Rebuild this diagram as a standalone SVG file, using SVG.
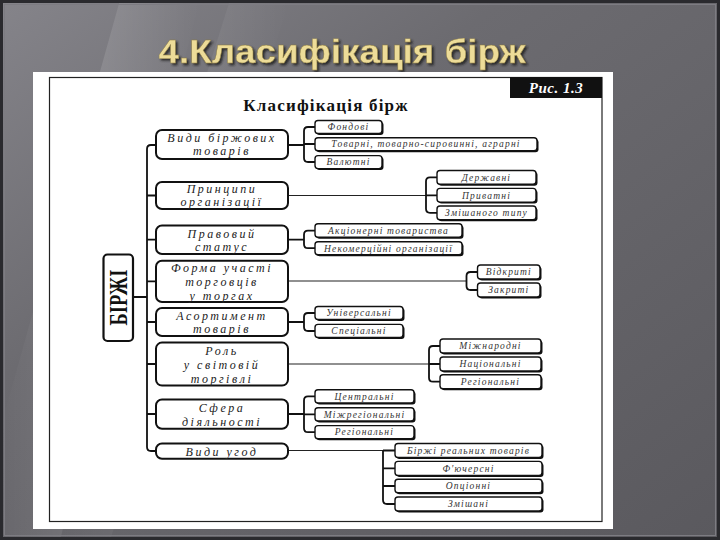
<svg xmlns="http://www.w3.org/2000/svg" width="720" height="540" viewBox="0 0 720 540">
<defs>
<linearGradient id="bg" x1="0" y1="0" x2="1" y2="1">
<stop offset="0" stop-color="#85848a"/>
<stop offset="0.35" stop-color="#6c6b70"/>
<stop offset="1" stop-color="#5a595e"/>
</linearGradient>
<linearGradient id="streak" x1="0" y1="0" x2="1" y2="0">
<stop offset="0" stop-color="#ffffff" stop-opacity="0"/>
<stop offset="0.5" stop-color="#ffffff" stop-opacity="0.12"/>
<stop offset="1" stop-color="#ffffff" stop-opacity="0"/>
</linearGradient>
<filter id="tshadow" x="-5%" y="-20%" width="110%" height="150%">
<feDropShadow dx="2" dy="2" stdDeviation="0.8" flood-color="#1e1e1e" flood-opacity="0.85"/>
</filter>
<style>
.cat{fill:#fff;stroke:#111;stroke-width:2}
.catt{font-family:"Liberation Serif",serif;font-style:italic;font-size:12px;letter-spacing:2.5px;fill:#222;text-anchor:middle}
.ch{fill:#fff;stroke:#111;stroke-width:1.4}
.chs{fill:#111}
.cht{font-family:"Liberation Serif",serif;font-style:italic;font-size:9.5px;letter-spacing:1.2px;fill:#333;text-anchor:middle}
.ln{fill:none;stroke:#111;stroke-width:1.8}
.lt{fill:none;stroke:#222;stroke-width:1.1}
</style>
</defs>
<rect x="0" y="0" width="720" height="540" fill="url(#bg)"/>
<polygon points="120,0 200,0 60,540 0,540 0,430" fill="url(#streak)"/>
<polygon points="230,0 290,0 110,540 60,540" fill="url(#streak)" opacity="0.7"/>
<rect x="1.5" y="1.5" width="717" height="537" fill="none" stroke="#2a2a2e" stroke-width="3"/>
<rect x="4.5" y="4.5" width="711" height="531" fill="none" stroke="#7d7c82" stroke-width="1"/>
<text x="342" y="63" filter="url(#tshadow)" font-family="'Liberation Sans',Arial,sans-serif" font-weight="bold" font-size="34" textLength="367" lengthAdjust="spacingAndGlyphs" text-anchor="middle" fill="#eddc98" stroke="#8a7a40" stroke-width="0.4">4.Класифікація бірж</text>
<rect x="33" y="72" width="580" height="457" fill="#ffffff"/>
<rect x="49.5" y="77.5" width="552.5" height="444" fill="none" stroke="#222" stroke-width="1.2"/>
<g id="fig-label">
<rect x="510" y="77" width="92" height="21" fill="#111"/>
<text x="556" y="93" font-family="'Liberation Serif',serif" font-style="italic" font-weight="bold" font-size="15" letter-spacing="0.5" fill="#fff" text-anchor="middle">Рис. 1.3</text>
</g>
<text x="326" y="111" font-family="'Liberation Serif',serif" font-weight="bold" font-size="17" letter-spacing="1.2" text-anchor="middle" fill="#111">Класифікація бірж</text>
<g id="connectors">
<path class="ln" d="M156,145 H151 Q147,145 147,149 V447 Q147,451 151,451 H156"/>
<path class="ln" d="M133,297 H147 M147,195.5 H156 M147,239.7 H156 M147,281.3 H156 M147,322 H156 M147,364 H156 M147,414 H156"/>
<path class="ln" d="M288,145 H304 M315,127 H308 Q304,127 304,131 V158 Q304,162 308,162 H315 M304,144 H315"/>
<path class="lt" d="M288,195.5 H426"/>
<path class="ln" d="M437,177.3 H430 Q426,177.3 426,181.3 V208.8 Q426,212.8 430,212.8 H437 M426,195.3 H437"/>
<path class="ln" d="M288,239.7 H304 M315,230.7 H308 Q304,230.7 304,234.7 V244.2 Q304,248.2 308,248.2 H315"/>
<path class="lt" d="M288,281 H466.5"/>
<path class="ln" d="M477.5,272 H470.5 Q466.5,272 466.5,276 V286 Q466.5,290 470.5,290 H477.5"/>
<path class="ln" d="M288,322 H304 M315,313 H308 Q304,313 304,317 V327 Q304,331 308,331 H315"/>
<path class="lt" d="M288,364 H429"/>
<path class="ln" d="M440,346 H433 Q429,346 429,350 V377.7 Q429,381.7 433,381.7 H440 M429,364 H440"/>
<path class="ln" d="M288,414 H304 M315,396.4 H308 Q304,396.4 304,400.4 V428.2 Q304,432.2 308,432.2 H315 M304,414.3 H315"/>
<path class="lt" d="M288,450.5 H383"/>
<path class="ln" d="M383,450.5 H395 M383,450.5 V500 Q383,504 387,504 H395 M383,468.3 H395 M383,486 H395"/>
</g>
<g id="birzhi">
<rect x="103.5" y="254.5" width="29.5" height="86.5" rx="4" fill="#fff" stroke="#111" stroke-width="2.2"/>
<text x="118.5" y="306" transform="rotate(-90 118.5 297.5)" font-family="'Liberation Serif',serif" font-weight="bold" font-size="25" textLength="56" lengthAdjust="spacingAndGlyphs" text-anchor="middle" fill="#111">БІРЖІ</text>
</g>
<g id="cat1"><rect class="cat" x="156" y="130" width="132" height="29" rx="6"/><text class="catt" x="222" y="142">Види біржових</text><text class="catt" x="222" y="155">товарів</text></g>
<g id="cat2"><rect class="cat" x="156" y="182" width="132" height="27" rx="6"/><text class="catt" x="222" y="193">Принципи</text><text class="catt" x="222" y="206">організації</text></g>
<g id="cat3"><rect class="cat" x="156" y="225.5" width="132" height="28.5" rx="6"/><text class="catt" x="222" y="237.5">Правовий</text><text class="catt" x="222" y="251">статус</text></g>
<g id="cat4"><rect class="cat" x="156" y="260.7" width="132" height="41.3" rx="6"/><text class="catt" x="222" y="272">Форма участі</text><text class="catt" x="222" y="286">торговців</text><text class="catt" x="222" y="299.5">у торгах</text></g>
<g id="cat5"><rect class="cat" x="156" y="308" width="132" height="28" rx="6"/><text class="catt" x="222" y="320">Асортимент</text><text class="catt" x="222" y="333">товарів</text></g>
<g id="cat6"><rect class="cat" x="156" y="342.6" width="132" height="43" rx="6"/><text class="catt" x="222" y="355">Роль</text><text class="catt" x="222" y="369">у світовій</text><text class="catt" x="222" y="383">торгівлі</text></g>
<g id="cat7"><rect class="cat" x="156" y="399.5" width="132" height="29.2" rx="6"/><text class="catt" x="222" y="412">Сфера</text><text class="catt" x="222" y="426">діяльності</text></g>
<g id="cat8"><rect class="cat" x="156" y="443.5" width="132" height="15.2" rx="6"/><text class="catt" x="222" y="455.5">Види угод</text></g>
<g id="c1a"><rect class="chs" x="316.5" y="122" width="67" height="13" rx="3"/><rect class="ch" x="315" y="120.5" width="67" height="13" rx="3"/><text class="cht" x="348.5" y="130.2">Фондові</text></g>
<g id="c1b"><rect class="chs" x="316.5" y="139.2" width="222" height="13" rx="3"/><rect class="ch" x="315" y="137.7" width="222" height="13" rx="3"/><text class="cht" x="426" y="147.4">Товарні, товарно-сировинні, аграрні</text></g>
<g id="c1c"><rect class="chs" x="316.5" y="157.1" width="67" height="13" rx="3"/><rect class="ch" x="315" y="155.6" width="67" height="13" rx="3"/><text class="cht" x="348.5" y="165.3">Валютні</text></g>
<g id="c2a"><rect class="chs" x="438.5" y="172" width="99" height="13.7" rx="3"/><rect class="ch" x="437" y="170.5" width="99" height="13.7" rx="3"/><text class="cht" x="486.5" y="180.6">Державні</text></g>
<g id="c2b"><rect class="chs" x="438.5" y="189.9" width="99" height="13.7" rx="3"/><rect class="ch" x="437" y="188.4" width="99" height="13.7" rx="3"/><text class="cht" x="486.5" y="198.5">Приватні</text></g>
<g id="c2c"><rect class="chs" x="438.5" y="207.5" width="99" height="13.7" rx="3"/><rect class="ch" x="437" y="206" width="99" height="13.7" rx="3"/><text class="cht" x="486.5" y="216.1">Змішаного типу</text></g>
<g id="c3a"><rect class="chs" x="316.5" y="225.3" width="147" height="13.5" rx="3"/><rect class="ch" x="315" y="223.8" width="147" height="13.5" rx="3"/><text class="cht" x="388.5" y="233.8">Акціонерні товариства</text></g>
<g id="c3b"><rect class="chs" x="316.5" y="243.2" width="147" height="13.1" rx="3"/><rect class="ch" x="315" y="241.7" width="147" height="13.1" rx="3"/><text class="cht" x="388.5" y="251.5">Некомерційні організації</text></g>
<g id="c4a"><rect class="chs" x="479" y="266.5" width="62.5" height="14" rx="3"/><rect class="ch" x="477.5" y="265" width="62.5" height="14" rx="3"/><text class="cht" x="508.8" y="275.2">Відкриті</text></g>
<g id="c4b"><rect class="chs" x="479" y="284.5" width="62.5" height="14" rx="3"/><rect class="ch" x="477.5" y="283" width="62.5" height="14" rx="3"/><text class="cht" x="508.8" y="293.2">Закриті</text></g>
<g id="c5a"><rect class="chs" x="316.5" y="308" width="88" height="13" rx="3"/><rect class="ch" x="315" y="306.5" width="88" height="13" rx="3"/><text class="cht" x="359" y="316.2">Універсальні</text></g>
<g id="c5b"><rect class="chs" x="316.5" y="325.9" width="88" height="13" rx="3"/><rect class="ch" x="315" y="324.4" width="88" height="13" rx="3"/><text class="cht" x="359" y="334.1">Спеціальні</text></g>
<g id="c6a"><rect class="chs" x="441.5" y="340.5" width="101" height="14" rx="3"/><rect class="ch" x="440" y="339" width="101" height="14" rx="3"/><text class="cht" x="490.5" y="349.2">Міжнародні</text></g>
<g id="c6b"><rect class="chs" x="441.5" y="358.5" width="101" height="14" rx="3"/><rect class="ch" x="440" y="357" width="101" height="14" rx="3"/><text class="cht" x="490.5" y="367.2">Національні</text></g>
<g id="c6c"><rect class="chs" x="441.5" y="376.2" width="101" height="14" rx="3"/><rect class="ch" x="440" y="374.7" width="101" height="14" rx="3"/><text class="cht" x="490.5" y="384.9">Регіональні</text></g>
<g id="c7a"><rect class="chs" x="316.5" y="391.3" width="99" height="13.2" rx="3"/><rect class="ch" x="315" y="389.8" width="99" height="13.2" rx="3"/><text class="cht" x="364.5" y="399.6">Центральні</text></g>
<g id="c7b"><rect class="chs" x="316.5" y="409.2" width="99" height="13.2" rx="3"/><rect class="ch" x="315" y="407.7" width="99" height="13.2" rx="3"/><text class="cht" x="364.5" y="417.5">Міжрегіональні</text></g>
<g id="c7c"><rect class="chs" x="316.5" y="427.1" width="99" height="13.2" rx="3"/><rect class="ch" x="315" y="425.6" width="99" height="13.2" rx="3"/><text class="cht" x="364.5" y="435.4">Регіональні</text></g>
<g id="c8a"><rect class="chs" x="396.5" y="445" width="147" height="14" rx="3"/><rect class="ch" x="395" y="443.5" width="147" height="14" rx="3"/><text class="cht" x="468.5" y="453.7">Біржі реальних товарів</text></g>
<g id="c8b"><rect class="chs" x="396.5" y="462.9" width="147" height="14" rx="3"/><rect class="ch" x="395" y="461.4" width="147" height="14" rx="3"/><text class="cht" x="468.5" y="471.6">Ф'ючерсні</text></g>
<g id="c8c"><rect class="chs" x="396.5" y="480.8" width="147" height="13.5" rx="3"/><rect class="ch" x="395" y="479.3" width="147" height="13.5" rx="3"/><text class="cht" x="468.5" y="489.2">Опціонні</text></g>
<g id="c8d"><rect class="chs" x="396.5" y="498.5" width="147" height="14" rx="3"/><rect class="ch" x="395" y="497" width="147" height="14" rx="3"/><text class="cht" x="468.5" y="507.2">Змішані</text></g>
</svg>
